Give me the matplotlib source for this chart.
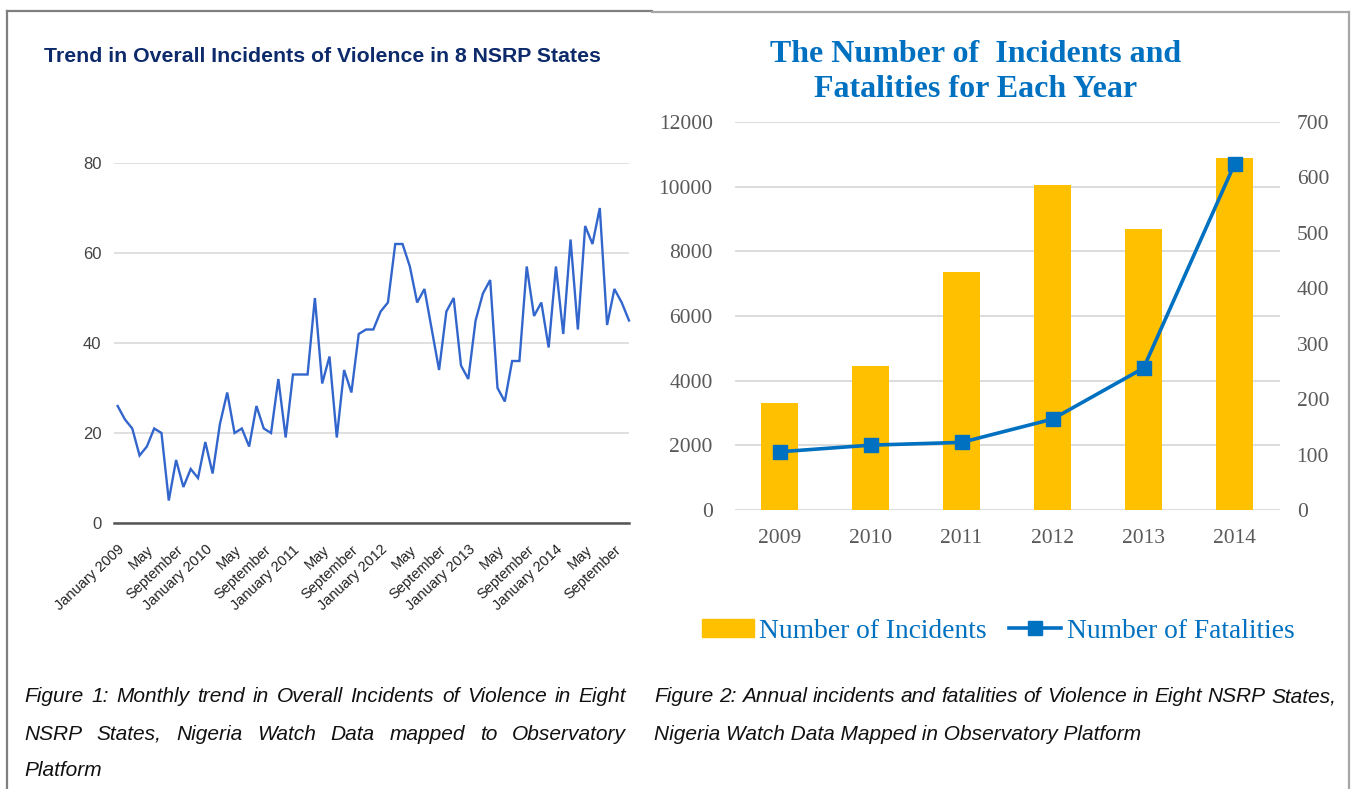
import numpy as np
import matplotlib.pyplot as plt
from matplotlib.lines import Line2D
from matplotlib.patches import Patch

# monthly incidents, Jan 2009 - Nov 2014
monthly = [26, 23, 21, 15, 17, 21, 20, 5, 14, 8,
           12, 10, 18, 11, 22, 29, 20, 21, 17, 26,
           21, 20, 32, 19, 33, 33, 33, 50, 31, 37,
           19, 34, 29, 42, 43, 43, 47, 49, 62, 62,
           57, 49, 52, 43, 34, 47, 50, 35, 32, 45,
           51, 54, 30, 27, 36, 36, 57, 46, 49, 39,
           57, 42, 63, 43, 66, 62, 70, 44, 52, 49, 45]
month_ticks = ['January 2009', 'May', 'September',
               'January 2010', 'May', 'September',
               'January 2011', 'May', 'September',
               'January 2012', 'May', 'September',
               'January 2013', 'May', 'September',
               'January 2014', 'May', 'September']
left_yticks = [0, 20, 40, 60, 80]

# annual data (right chart)
years = ['2009', '2010', '2011', '2012', '2013', '2014']
incidents = [3300, 4450, 7350, 10050, 8700, 10900]
fatalities = [105, 117, 122, 164, 256, 624]

W, H = 1353, 789
fig = plt.figure(figsize=(W / 100, H / 100), dpi=100)


def fx(x):
    return x / W


def fy(y):
    return 1 - y / H


def box(x0, y0, x1, y1):
    return [fx(x0), fy(y1), (x1 - x0) / W, (y1 - y0) / H]


sans = ['Liberation Sans', 'DejaVu Sans']
serif = ['Liberation Serif', 'DejaVu Serif']
blue = '#0070C0'

# page borders
for xs, ys, c in [([7, 652], [11, 11], '#7f7f7f'), ([652, 1349], [12, 12], '#a6a6a6'),
                  ([7, 7], [11, 789], '#7f7f7f'), ([1349, 1349], [12, 789], '#a6a6a6')]:
    fig.add_artist(Line2D([fx(x) for x in xs], [fy(y) for y in ys], color=c, lw=1.6))

# ---------------- left chart ----------------
fig.text(fx(44), fy(56), 'Trend in Overall Incidents of Violence in 8 NSRP States',
         family=sans, fontsize=15.35, fontweight='bold', color='#0d2a6b', va='center')

ax1 = fig.add_axes(box(114, 163, 629, 523))
x = np.arange(len(monthly))
ax1.plot(x, monthly, color='#3366cc', lw=1.7, clip_on=False, solid_joinstyle='miter')
ax1.set_xlim(-0.5, 70)
ax1.set_ylim(0, 80)
ax1.set_yticks(left_yticks)
ax1.set_yticklabels([str(v) for v in left_yticks], family=sans, fontsize=12, color='#444444')
ax1.set_xticks(x[::4])
ax1.set_xticklabels(month_ticks, family=sans, fontsize=10.5, color='#222222',
                    rotation=43, ha='right', va='top', rotation_mode='anchor')
ax1.tick_params(length=0)
ax1.tick_params(axis='y', pad=9)
ax1.tick_params(axis='x', pad=14)
ax1.grid(axis='y', color='#dddddd', lw=1.3)
ax1.set_axisbelow(True)
for s in ['top', 'right', 'left']:
    ax1.spines[s].set_visible(False)
ax1.spines['bottom'].set_color('#555555')
ax1.spines['bottom'].set_linewidth(1.8)

# ---------------- right chart ----------------
fig.text(fx(976), fy(72), 'The Number of  Incidents and\nFatalities for Each Year',
         family=serif, fontsize=23, fontweight='bold', color=blue,
         ha='center', va='center', linespacing=1.25)

ax2 = fig.add_axes(box(735, 122, 1280, 510))
pos = np.arange(len(years))
bars = ax2.bar(pos, incidents, width=0.4, color='#FFC000', zorder=2)
ax2.set_xlim(-0.49, 5.5)
ax2.set_ylim(0, 12000)
ax2.set_yticks(range(0, 12001, 2000))
ax2.set_xticks(pos)
ax2.set_xticklabels(years)
ax2.grid(axis='y', color='#d9d9d9', lw=1.3, zorder=0)
ax2.set_axisbelow(True)
for s in ax2.spines.values():
    s.set_visible(False)
ax2.tick_params(length=0, labelcolor='#595959', labelsize=15.5)
ax2.tick_params(axis='y', pad=16)
ax2.tick_params(axis='x', pad=14)
for t in ax2.get_xticklabels() + ax2.get_yticklabels():
    t.set_family(serif)

ax3 = ax2.twinx()
ax3.plot(pos, fatalities, color=blue, lw=2.6, marker='s', markersize=10, zorder=3)
ax3.set_ylim(0, 700)
ax3.set_yticks(range(0, 701, 100))
for s in ax3.spines.values():
    s.set_visible(False)
ax3.tick_params(length=0, labelcolor='#595959', labelsize=15.5, pad=12)
for t in ax3.get_yticklabels():
    t.set_family(serif)

handles = [Patch(color='#FFC000', label='Number of Incidents'),
           Line2D([], [], color=blue, lw=2.6, marker='s', markersize=10, label='Number of Fatalities')]
leg = fig.legend(handles=handles, loc='center', bbox_to_anchor=(fx(998), fy(631)), ncol=2,
                 frameon=False, handlelength=1.9, handleheight=0.6, handletextpad=0.2,
                 columnspacing=0.8, prop={'family': serif, 'size': 19.8})
for t in leg.get_texts():
    t.set_color(blue)

# ---------------- captions ----------------
renderer = fig.canvas.get_renderer()


def justify(text, x0, x1, y, **kw):
    words = text.split()
    ts = [fig.text(0, 0, w, va='center', **kw) for w in words]
    widths = [t.get_window_extent(renderer).width for t in ts]
    gap = (x1 - x0 - sum(widths)) / (len(words) - 1)
    xx = x0
    for t, w in zip(ts, widths):
        t.set_position((fx(xx), fy(y)))
        xx += w + gap


cap = dict(family=sans, fontsize=15, style='italic', color='#111111')
justify('Figure 1: Monthly trend in Overall Incidents of Violence in Eight', 24, 626, 697, **cap)
justify('NSRP States, Nigeria Watch Data mapped to Observatory', 24, 626, 734, **cap)
fig.text(fx(24), fy(771), 'Platform', va='center', **cap)

justify('Figure 2: Annual incidents and fatalities of Violence in Eight NSRP States,', 654, 1336, 697, **cap)
fig.text(fx(654), fy(734), 'Nigeria Watch Data Mapped in Observatory Platform', va='center', **cap)

fig.savefig('out.png', dpi=100)
